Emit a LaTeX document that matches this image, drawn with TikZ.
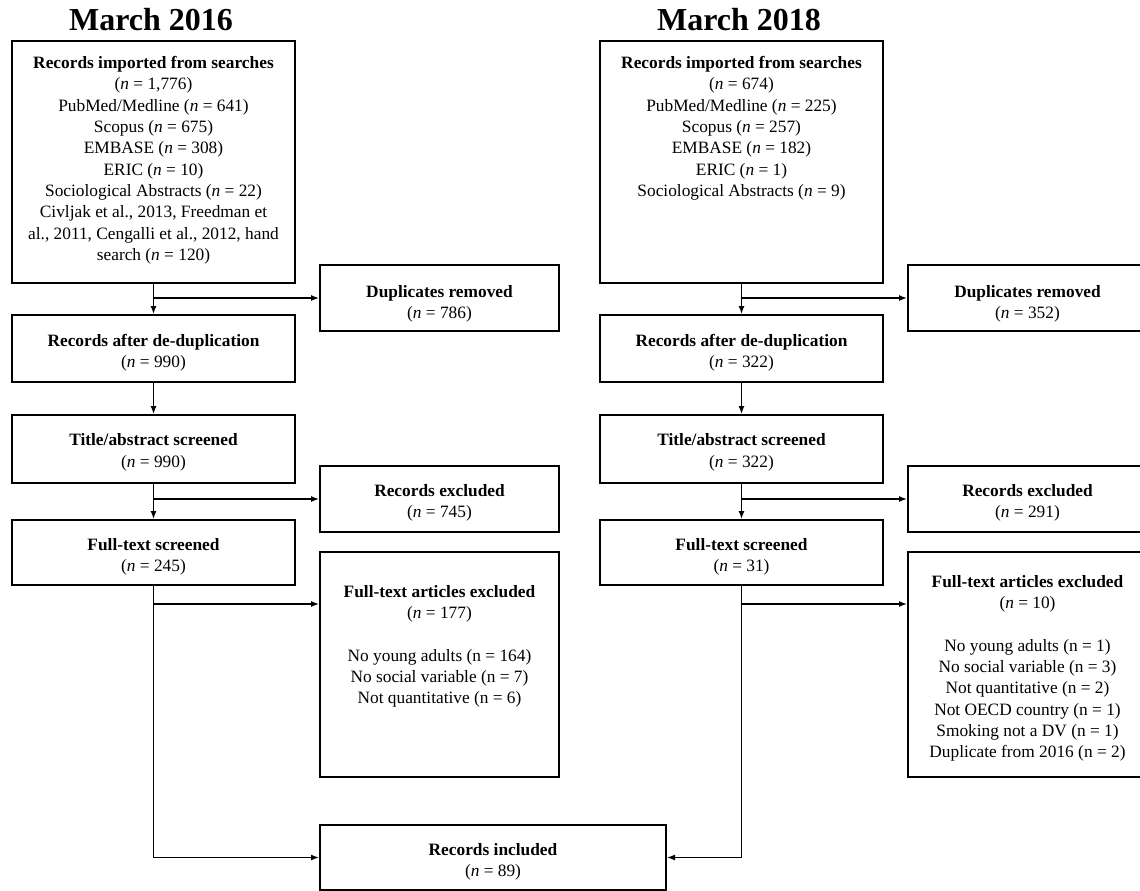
\documentclass[tikz,border=0pt]{standalone}
\usepackage{fontspec}
\setmainfont{Liberation Serif}
\usetikzlibrary{arrows.meta}
\newcommand{\nn}{\textit{n}}
\begin{document}
\begin{tikzpicture}[x=0.75pt,y=-0.75pt,
  box/.style={draw, line width=1.5pt, rectangle, inner sep=0pt},
  colbox/.style={box, minimum width=212.25pt},
  sidebox/.style={box, minimum width=179.25pt},
  txt/.style={inner sep=0pt, align=center, font=\fontsize{13pt}{16pt}\selectfont, anchor=north},
  ttl/.style={inner sep=0pt, font=\fontsize{24pt}{28pt}\selectfont\bfseries, anchor=base},
  conn/.style={line width=1pt},
  arr/.style={conn, -{Latex[length=6pt,width=4.5pt]}}]
\useasboundingbox (0,0) rectangle (1140,890);

% titles
\node[ttl] (t1) at (151,30) {March 2016};
\node[ttl] (t2) at (739,30) {March 2018};

% ---------- left column ----------
\node[colbox, minimum height=181.5pt] (a1) at (153.5,162) {};
\node[txt] (a1t) at (153.5,56) {\textbf{Records imported from searches}\\
(\nn{} = 1,776)\\ PubMed/Medline (\nn{} = 641)\\ Scopus (\nn{} = 675)\\
EMBASE (\nn{} = 308)\\ ERIC (\nn{} = 10)\\ Sociological Abstracts (\nn{} = 22)\\
Civljak et al., 2013, Freedman et\\ al., 2011, Cengalli et al., 2012, hand\\ search (\nn{} = 120)};

\node[colbox, minimum height=50.25pt] (a2) at (153.5,348.5) {};
\node[txt] (a2t) at (153.5,334) {\textbf{Records after de-duplication}\\ (\nn{} = 990)};

\node[colbox, minimum height=51pt] (a3) at (153.5,449) {};
\node[txt] (a3t) at (153.5,433.5) {\textbf{Title/abstract screened}\\ (\nn{} = 990)};

\node[colbox, minimum height=48.75pt] (a4) at (153.5,552.5) {};
\node[txt] (a4t) at (153.5,538) {\textbf{Full-text screened}\\ (\nn{} = 245)};

\node[sidebox, minimum height=49.5pt] (dl) at (439.5,298) {};
\node[txt] (dlt) at (439.5,285) {\textbf{Duplicates removed}\\ (\nn{} = 786)};

\node[sidebox, minimum height=49.5pt] (el) at (439.5,499) {};
\node[txt] (elt) at (439.5,484) {\textbf{Records excluded}\\ (\nn{} = 745)};

\node[sidebox, minimum height=168.75pt] (fl) at (439.5,664.5) {};
\node[txt] (flt) at (439.5,585) {\textbf{Full-text articles excluded}\\ (\nn{} = 177)\\[16pt]
No young adults (n = 164)\\ No social variable (n = 7)\\ Not quantitative (n = 6)};

% ---------- right column ----------
\node[colbox, minimum height=181.5pt] (b1) at (741.5,162) {};
\node[txt] (b1t) at (741.5,56) {\textbf{Records imported from searches}\\
(\nn{} = 674)\\ PubMed/Medline (\nn{} = 225)\\ Scopus (\nn{} = 257)\\
EMBASE (\nn{} = 182)\\ ERIC (\nn{} = 1)\\ Sociological Abstracts (\nn{} = 9)};

\node[colbox, minimum height=50.25pt] (b2) at (741.5,348.5) {};
\node[txt] (b2t) at (741.5,334) {\textbf{Records after de-duplication}\\ (\nn{} = 322)};

\node[colbox, minimum height=51pt] (b3) at (741.5,449) {};
\node[txt] (b3t) at (741.5,433.5) {\textbf{Title/abstract screened}\\ (\nn{} = 322)};

\node[colbox, minimum height=48.75pt] (b4) at (741.5,552.5) {};
\node[txt] (b4t) at (741.5,538) {\textbf{Full-text screened}\\ (\nn{} = 31)};

\node[sidebox, minimum height=49.5pt] (dr) at (1027.5,298) {};
\node[txt] (drt) at (1027.5,285) {\textbf{Duplicates removed}\\ (\nn{} = 352)};

\node[sidebox, minimum height=49.5pt] (er) at (1027.5,499) {};
\node[txt] (ert) at (1027.5,484) {\textbf{Records excluded}\\ (\nn{} = 291)};

\node[sidebox, minimum height=168.75pt] (fr) at (1027.5,664.5) {};
\node[txt] (frt) at (1027.5,575) {\textbf{Full-text articles excluded}\\ (\nn{} = 10)\\[16pt]
No young adults (n = 1)\\ No social variable (n = 3)\\ Not quantitative (n = 2)\\
Not OECD country (n = 1)\\ Smoking not a DV (n = 1)\\ Duplicate from 2016 (n = 2)};

% ---------- bottom ----------
\node[box, minimum width=259.5pt, minimum height=48.75pt] (inc) at (493,857.5) {};
\node[txt] (inct) at (493,843) {\textbf{Records included}\\ (\nn{} = 89)};

% ---------- connectors ----------
\coordinate (flin) at ([yshift=-39.75pt]fl.north west);
\coordinate (frin) at ([yshift=-39.75pt]fr.north west);

\draw[arr] (a1) -- (a2);
\draw[arr] (a1.south |- dl.west) -- (dl.west);
\draw[arr] (a2) -- (a3);
\draw[arr] (a3) -- (a4);
\draw[arr] (a3.south |- el.west) -- (el.west);
\draw[arr] (a4.south |- flin) -- (flin);
\draw[arr] (a4.south) |- (inc.west);

\draw[arr] (b1) -- (b2);
\draw[arr] (b1.south |- dr.west) -- (dr.west);
\draw[arr] (b2) -- (b3);
\draw[arr] (b3) -- (b4);
\draw[arr] (b3.south |- er.west) -- (er.west);
\draw[arr] (b4.south |- frin) -- (frin);
\draw[arr] (b4.south) |- (inc.east);
\end{tikzpicture}
\end{document}
